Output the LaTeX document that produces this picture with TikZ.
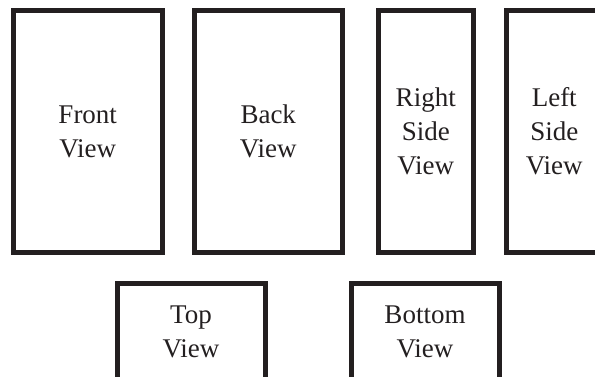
\documentclass[tikz,border=0pt]{standalone}
\usepackage{fontspec}
\setmainfont{Liberation Serif}
\definecolor{ink}{HTML}{231F20}
\begin{document}
\begin{tikzpicture}[x=1pt,y=-1pt,
  viewbox/.style={draw=ink,line width=5pt,inner sep=0pt,rectangle,
    text=ink,align=center,font=\fontsize{27}{34}\selectfont}]
\useasboundingbox (0,0) rectangle (595,377);
\clip (0,0) rectangle (595,377);
\node[viewbox,minimum width=148.5pt,minimum height=241.8pt] (front) at (87.75,131.6) {Front\\View};
\node[viewbox,minimum width=148.5pt,minimum height=241.8pt] (back) at (268.25,131.6) {Back\\View};
\node[viewbox,minimum width=95.5pt,minimum height=241.8pt] (right) at (425.75,131.6) {Right\\Side\\View};
\node[viewbox,minimum width=95.5pt,minimum height=241.8pt] (left) at (554.25,131.6) {Left\\Side\\View};
\node[viewbox,minimum width=148pt,minimum height=97pt] (top) at (191,332) {Top\\View};
\node[viewbox,minimum width=148pt,minimum height=97pt] (bottom) at (425,332) {Bottom\\View};
\end{tikzpicture}
\end{document}
